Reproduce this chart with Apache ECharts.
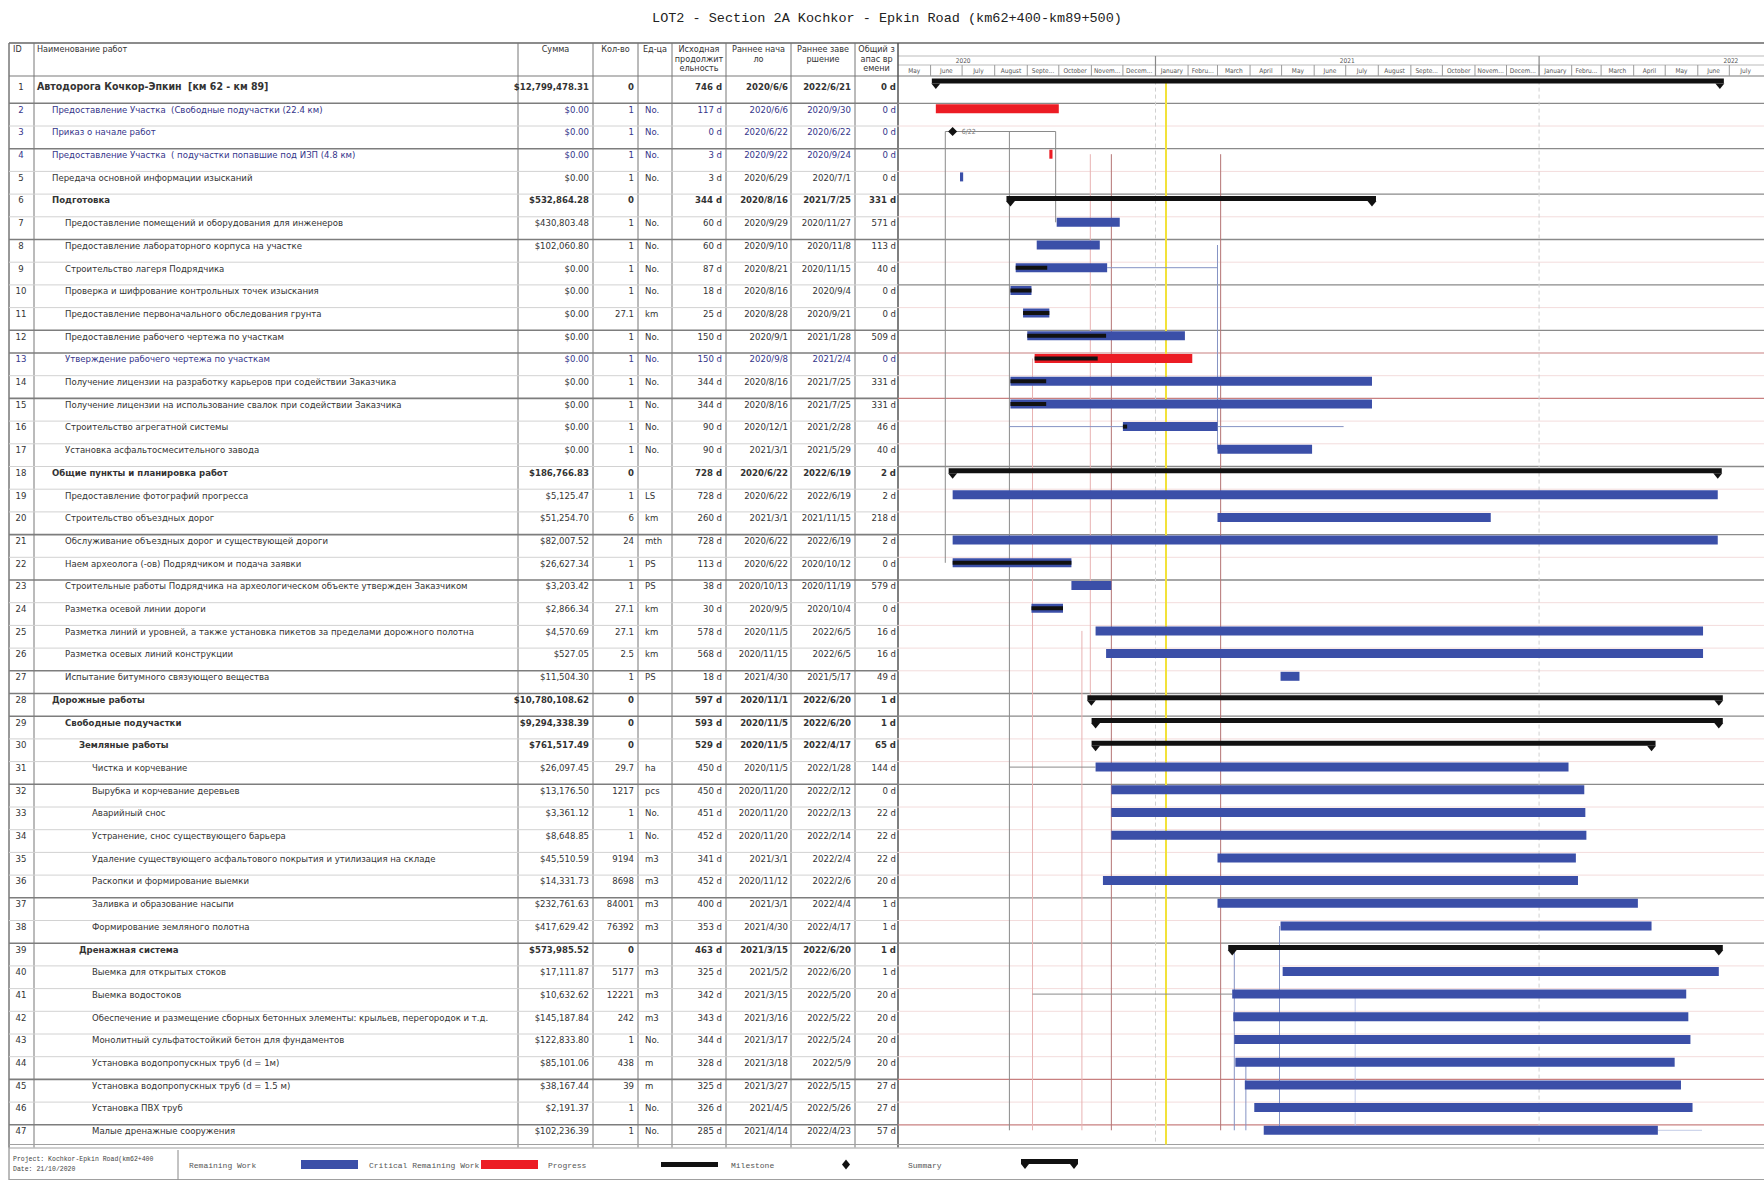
<!DOCTYPE html>
<html><head><meta charset="utf-8">
<script src="https://cdn.jsdelivr.net/npm/echarts@6/dist/echarts.min.js"></script>
<style>html,body{margin:0;padding:0;background:#fff}#c{width:1764px;height:1184px}</style>
</head><body><div id="c"></div>
<script>
// ---------------- DATA ----------------
const title = 'LOT2 - Section 2A Kochkor - Epkin Road (km62+400-km89+500)';
const headers = ['ID','Наименование работ','Сумма','Кол-во','Ед-ца',['Исходная','продолжит','ельность'],['Раннее нача','ло'],['Раннее заве','ршение'],['Общий з','апас вр','емени']];
const ids = [1,2,3,4,5,6,7,8,9,10,11,12,13,14,15,16,17,18,19,20,21,22,23,24,25,26,27,28,29,30,31,32,33,34,35,36,37,38,39,40,41,42,43,44,45,46,47];
const names = [
'Автодорога Кочкор-Эпкин  [км 62 - км 89]',
'Предоставление Участка  (Свободные подучастки (22.4 км)',
'Приказ о начале работ',
'Предоставление Участка  ( подучастки попавшие под ИЗП (4.8 км)',
'Передача основной информации изысканий',
'Подготовка',
'Предоставление помещений и оборудования для инженеров',
'Предоставление лабораторного корпуса на участке',
'Строительство лагеря Подрядчика',
'Проверка и шифрование контрольных точек изыскания',
'Предоставление первоначального обследования грунта',
'Предоставление рабочего чертежа по участкам',
'Утверждение рабочего чертежа по участкам',
'Получение лицензии на разработку карьеров при содействии Заказчика',
'Получение лицензии на использование свалок при содействии Заказчика',
'Строительство агрегатной системы',
'Установка асфальтосмесительного завода',
'Общие пункты и планировка работ',
'Предоставление фотографий прогресса',
'Строительство объездных дорог',
'Обслуживание объездных дорог и существующей дороги',
'Наем археолога (-ов) Подрядчиком и подача заявки',
'Строительные работы Подрядчика на археологическом объекте утвержден Заказчиком',
'Разметка осевой линии дороги',
'Разметка линий и уровней, а также установка пикетов за пределами дорожного полотна',
'Разметка осевых линий конструкции',
'Испытание битумного связующего вещества',
'Дорожные работы',
'Свободные подучастки',
'Земляные работы',
'Чистка и корчевание',
'Вырубка и корчевание деревьев',
'Аварийный снос',
'Устранение, снос существующего барьера',
'Удаление существующего асфальтового покрытия и утилизация на складе',
'Раскопки и формирование выемки',
'Заливка и образование насыпи',
'Формирование земляного полотна',
'Дренажная система',
'Выемка для открытых стоков',
'Выемка водостоков',
'Обеспечение и размещение сборных бетонных элементы: крыльев, перегородок и т.д.',
'Монолитный сульфатостойкий бетон для фундаментов',
'Установка водопропускных труб (d = 1м)',
'Установка водопропускных труб (d = 1.5 м)',
'Установка ПВХ труб',
'Малые дренажные сооружения'];
const levels = [1,2,2,2,2,2,3,3,3,3,3,3,3,3,3,3,3,2,3,3,3,3,3,3,3,3,3,2,3,4,5,5,5,5,5,5,5,5,4,5,5,5,5,5,5,5,5];
const costs = ['$12,799,478.31','$0.00','$0.00','$0.00','$0.00','$532,864.28','$430,803.48','$102,060.80','$0.00','$0.00','$0.00','$0.00','$0.00','$0.00','$0.00','$0.00','$0.00','$186,766.83','$5,125.47','$51,254.70','$82,007.52','$26,627.34','$3,203.42','$2,866.34','$4,570.69','$527.05','$11,504.30','$10,780,108.62','$9,294,338.39','$761,517.49','$26,097.45','$13,176.50','$3,361.12','$8,648.85','$45,510.59','$14,331.73','$232,761.63','$417,629.42','$573,985.52','$17,111.87','$10,632.62','$145,187.84','$122,833.80','$85,101.06','$38,167.44','$2,191.37','$102,236.39'];
const qtys = ['0','1','1','1','1','0','1','1','1','1','27.1','1','1','1','1','1','1','0','1','6','24','1','1','27.1','27.1','2.5','1','0','0','0','29.7','1217','1','1','9194','8698','84001','76392','0','5177','12221','242','1','438','39','1','1'];
const units = ['','No.','No.','No.','No.','','No.','No.','No.','No.','km','No.','No.','No.','No.','No.','No.','','LS','km','mth','PS','PS','km','km','km','PS','','','','ha','pcs','No.','No.','m3','m3','m3','m3','','m3','m3','m3','No.','m','m','No.','No.'];
const durations = ['746 d','117 d','0 d','3 d','3 d','344 d','60 d','60 d','87 d','18 d','25 d','150 d','150 d','344 d','344 d','90 d','90 d','728 d','728 d','260 d','728 d','113 d','38 d','30 d','578 d','568 d','18 d','597 d','593 d','529 d','450 d','450 d','451 d','452 d','341 d','452 d','400 d','353 d','463 d','325 d','342 d','343 d','344 d','328 d','325 d','326 d','285 d'];
const starts = ['2020/6/6','2020/6/6','2020/6/22','2020/9/22','2020/6/29','2020/8/16','2020/9/29','2020/9/10','2020/8/21','2020/8/16','2020/8/28','2020/9/1','2020/9/8','2020/8/16','2020/8/16','2020/12/1','2021/3/1','2020/6/22','2020/6/22','2021/3/1','2020/6/22','2020/6/22','2020/10/13','2020/9/5','2020/11/5','2020/11/15','2021/4/30','2020/11/1','2020/11/5','2020/11/5','2020/11/5','2020/11/20','2020/11/20','2020/11/20','2021/3/1','2020/11/12','2021/3/1','2021/4/30','2021/3/15','2021/5/2','2021/3/15','2021/3/16','2021/3/17','2021/3/18','2021/3/27','2021/4/5','2021/4/14'];
const finishes = ['2022/6/21','2020/9/30','2020/6/22','2020/9/24','2020/7/1','2021/7/25','2020/11/27','2020/11/8','2020/11/15','2020/9/4','2020/9/21','2021/1/28','2021/2/4','2021/7/25','2021/7/25','2021/2/28','2021/5/29','2022/6/19','2022/6/19','2021/11/15','2022/6/19','2020/10/12','2020/11/19','2020/10/4','2022/6/5','2022/6/5','2021/5/17','2022/6/20','2022/6/20','2022/4/17','2022/1/28','2022/2/12','2022/2/13','2022/2/14','2022/2/4','2022/2/6','2022/4/4','2022/4/17','2022/6/20','2022/6/20','2022/5/20','2022/5/22','2022/5/24','2022/5/9','2022/5/15','2022/5/26','2022/4/23'];
const floats = ['0 d','0 d','0 d','0 d','0 d','331 d','571 d','113 d','40 d','0 d','0 d','509 d','0 d','331 d','331 d','46 d','40 d','2 d','2 d','218 d','2 d','0 d','579 d','0 d','16 d','16 d','49 d','1 d','1 d','65 d','144 d','0 d','22 d','22 d','22 d','20 d','1 d','1 d','1 d','1 d','20 d','20 d','20 d','20 d','27 d','27 d','57 d'];
// S = summary, C = critical task, M = milestone, T = task
const kinds = ['S','C','M','C','T','S','T','T','T','T','T','T','C','T','T','T','T','S','T','T','T','T','T','T','T','T','T','S','S','S','T','T','T','T','T','T','T','T','S','T','T','T','T','T','T','T','T'];
// progress (completed through) dates
const progress = [null,null,null,null,null,null,null,null,'2020/9/19','2020/9/4','2020/9/21','2020/11/14','2020/11/6','2020/9/18','2020/9/18','2020/12/4',null,null,null,null,null,'2020/10/12',null,'2020/10/4',null,null,null,null,null,null,null,null,null,null,null,null,null,null,null,null,null,null,null,null,null,null,null];
const statusDate = '2021/1/11';
const years = ['2020','2021','2022'];
const months = ['May','June','July','August','September','October','November','December','January','February','March','April','May','June','July','August','September','October','November','December','January','February','March','April','May','June','July'];
// dependency link lines: [date, fromRow, toRow, kind]
const vLinks = [['2020/6/15',3,22,'gray'],['2020/8/15',3,47,'gray'],['2020/9/6',13,47,'pink'],['2020/9/28',3,7,'gray'],['2020/10/31',4,28,'pink'],['2020/10/23',25,47,'pink'],['2020/11/20',4,47,'brown'],['2021/3/1',8,17,'blue'],['2021/3/4',4,47,'brown'],['2021/3/17',39,47,'blue'],['2021/3/28',44,47,'blue'],['2021/4/29',38,47,'blue'],['2021/7/10',41,47,'lblue']];
// [row, fromDate, toDate, kind]
const hLinks = [[3,'2020/6/15','2020/9/28','gray'],[9,'2020/11/16','2021/3/1','blue'],[16,'2020/8/15','2021/6/29','blue'],[31,'2020/8/15','2020/11/5','gray'],[41,'2020/9/6','2021/3/15','gray'],[47,'2022/4/24','2022/6/5','lblue']];
const legendItems = ['Remaining Work','Critical Remaining Work','Progress','Milestone','Summary'];

// ---------------- STYLE / LAYOUT ----------------
const DAY = 86400000;
const toTs = s => { const p = s.split('/').map(Number); return new Date(p[0], p[1]-1, p[2]).getTime(); };
const AXIS_MIN = new Date(2020,4,1).getTime();
const AXIS_MAX = new Date(2022,7,3).getTime();
const GL = 898, GT = 80.6, GH = 47*22.7;
const NARROW = '"Liberation Sans Narrow","Arial Narrow","DejaVu Sans Condensed","Liberation Sans",sans-serif';
const MONO = '"Liberation Mono","DejaVu Sans Mono",monospace';
const BLUE = '#3b4fa8', RED = '#ec1c24', BLACK = '#111';
const colX = [9,34,518,593,638,672,726,791,855,898];
const indentX = {1:37,2:52,3:65,4:79,5:92};
const blueTextRows = [2,3,4,13];
const darkTableRows = [2,4,8,12,13,15,21,23,27,28,29,32,37,39,45,47];
const darkGanttRows = [2,4,6,8,10,12,18,21,23,28,29,32,37,39];
const redGanttRows = [13,15,45,47];
const linkColors = {gray:'#8a8a8a', pink:'#e8b2b2', brown:'#b47474', blue:'#8593c4', lblue:'#c4cce6'};

const chart = echarts.init(document.getElementById('c'), null, {renderer:'svg', width:1764, height:1184});

function txt(text, x, y, o) {
  o = o || {};
  return {type:'text', silent:true, style:{text:text, x:x, y:y, fill:o.fill||'#333',
    fontSize:o.size||9.5, fontFamily:o.family||NARROW, fontWeight:o.weight||'normal',
    textAlign:o.align||'left', textVerticalAlign:'middle'}};
}
function ln(x1,y1,x2,y2,stroke,w,dash) {
  return {type:'line', silent:true, shape:{x1:x1,y1:y1,x2:x2,y2:y2}, style:{stroke:stroke, lineWidth:w||1, lineDash:dash||null}};
}

// static graphics: title, frame, headers, legend
const g = [];
g.push(txt(title, 887, 18, {size:13.5, family:MONO, align:'center', fill:'#222'}));
g.push(ln(9,43,1764,43,'#8c8c8c',2));
g.push(ln(9,76,1764,76,'#7a7a7a',1.2));
g.push(ln(GL,56,1764,56,'#bbbbbb',1));
g.push(ln(GL,65,1764,65,'#bbbbbb',1));
colX.forEach((x,i)=>{ g.push(ln(x,43,x,GT+GH,i===9?'#555':'#777',i===9?1.5:1)); });
g.push(ln(9,43,9,1180,'#777',1));
g.push(ln(9,GT+GH-3,1764,GT+GH-3,'#a0a0a0',1));
g.push(ln(9,GT+GH+0.5,1764,GT+GH+0.5,'#a0a0a0',1));
g.push(ln(9,1179.5,1764,1179.5,'#a0a0a0',1));
g.push(ln(178,1150,178,1179.5,'#888',1));
// headers
g.push(txt(headers[0], 13, 49, {size:9}));
g.push(txt(headers[1], 37, 49, {size:9}));
for (let c = 2; c < headers.length; c++) {
  const cx = (colX[c] + colX[c+1]) / 2;
  const lines = Array.isArray(headers[c]) ? headers[c] : [headers[c]];
  lines.forEach((t,k)=> g.push(txt(t, cx, 49 + k*9.5, {size:9, align:'center'})));
}
// legend
g.push(txt('Project: Kochkor-Epkin Road(km62+400', 13, 1159, {size:6.5, family:MONO, fill:'#444'}));
g.push(txt('Date: 21/10/2020', 13, 1169, {size:6.5, family:MONO, fill:'#444'}));
const legX = [189, 369, 548, 731, 908];
legendItems.forEach((t,i)=> g.push(txt(t, legX[i], 1165, {size:8, family:MONO, fill:'#555'})));
g.push({type:'rect', silent:true, shape:{x:301,y:1160,width:57,height:9}, style:{fill:BLUE}});
g.push({type:'rect', silent:true, shape:{x:481,y:1160,width:57,height:9}, style:{fill:RED}});
g.push({type:'rect', silent:true, shape:{x:661,y:1162,width:57,height:5}, style:{fill:BLACK}});
g.push({type:'polygon', silent:true, shape:{points:[[846,1159.5],[850,1164.5],[846,1169.5],[842,1164.5]]}, style:{fill:BLACK}});
g.push({type:'rect', silent:true, shape:{x:1021,y:1159,width:57,height:5}, style:{fill:BLACK}});
g.push({type:'polygon', silent:true, shape:{points:[[1021,1164],[1029,1164],[1025,1169]]}, style:{fill:BLACK}});
g.push({type:'polygon', silent:true, shape:{points:[[1070,1164],[1078,1164],[1074,1169]]}, style:{fill:BLACK}});

function bandTop(api, i) {
  const c = api.coord([AXIS_MIN, i]);
  return c[1] - api.size([0,1])[1] / 2;
}

const option = {
  animation: false,
  backgroundColor: '#fff',
  grid: {left: GL, top: GT, width: 1764-GL, height: GH, containLabel: false},
  xAxis: {type:'time', min: AXIS_MIN, max: AXIS_MAX, show: false},
  yAxis: {type:'category', data: ids.map(String), inverse: true, show: false},
  graphic: {elements: g},
  series: [
    { // table rows + row separators
      type:'custom', name:'table', clip:false, silent:true, z:1,
      encode:{x:1, y:0},
      data: ids.map((_, i) => [i, AXIS_MIN]),
      renderItem: (params, api) => {
        const i = api.value(0);
        const top = bandTop(api, i);
        const ty = top + 5.8;
        const row = ids[i];
        const bold = kinds[i] === 'S' ? 'bold' : 'normal';
        const fill = blueTextRows.includes(row) ? '#34348a' : '#333';
        const o = {fill:fill, weight:bold, size:9.5};
        const ch = [];
        if (row > 1) {
          const dark = darkTableRows.includes(row);
          ch.push(ln(9, top, GL, top, dark ? '#7d7d7d' : '#d2d2d2', dark ? 1.6 : 1));
          let gc = '#f3dcdc', gw = 1;
          if (darkGanttRows.includes(row)) { gc = '#8a8a8a'; gw = 1.3; }
          if (redGanttRows.includes(row)) { gc = '#c88080'; gw = 1.2; }
          ch.push(ln(GL, top, 1764, top, gc, gw));
        }
        ch.push(txt(String(row), 21, ty, {fill:fill, size:9.5, align:'center'}));
        ch.push(txt(names[i], indentX[levels[i]], ty, Object.assign({}, o, {size: row === 1 ? 10.5 : 9.5})));
        ch.push(txt(costs[i], 589, ty, Object.assign({}, o, {align:'right'})));
        ch.push(txt(qtys[i], 634, ty, Object.assign({}, o, {align:'right'})));
        ch.push(txt(units[i], 645, ty, o));
        ch.push(txt(durations[i], 722, ty, Object.assign({}, o, {align:'right'})));
        ch.push(txt(starts[i], 788, ty, Object.assign({}, o, {align:'right'})));
        ch.push(txt(finishes[i], 851, ty, Object.assign({}, o, {align:'right'})));
        ch.push(txt(floats[i], 896, ty, Object.assign({}, o, {align:'right'})));
        return {type:'group', children: ch};
      }
    },
    { // timeline header months
      type:'custom', name:'months', clip:false, silent:true, z:1,
      encode:{x:0, y:1},
      data: months.map((m, i) => [new Date(2020, 4+i, 1).getTime(), 0]),
      renderItem: (params, api) => {
        const i = params.dataIndex;
        const x0 = api.coord([api.value(0), 0])[0];
        const x1 = Math.min(1764, api.coord([new Date(2020, 5+i, 1).getTime(), 0])[0]);
        const ch = [];
        if (i > 0) ch.push(ln(x0, 65, x0, 76, '#9a9a9a', 1));
        ch.push({type:'text', silent:true, style:{text:months[i], x:(x0+x1)/2, y:70.5, fill:'#555', fontSize:6.5, fontFamily:NARROW, textAlign:'center', textVerticalAlign:'middle', width:x1-x0-3, overflow:'truncate'}});
        return {type:'group', children: ch};
      }
    },
    { // timeline header years
      type:'custom', name:'years', clip:false, silent:true, z:1,
      encode:{x:0, y:1},
      data: years.map(y => [new Date(+y, 0, 1).getTime(), 0]),
      renderItem: (params, api) => {
        const y = +years[params.dataIndex];
        const x0 = api.coord([api.value(0), 0])[0];
        const x1 = api.coord([new Date(y+1, 0, 1).getTime(), 0])[0];
        const ch = [];
        if (x0 > GL) ch.push(ln(x0, 56, x0, 76, '#888', 1.2));
        ch.push(txt(years[params.dataIndex], (x0+x1)/2, 60.5, {size:6.5, fill:'#555', align:'center'}));
        return {type:'group', children: ch};
      }
    },
    { // year dashed lines + status line
      type:'custom', name:'markers', clip:false, silent:true, z:2,
      encode:{x:0, y:1},
      data: [[new Date(2021,0,1).getTime(),0,0],[new Date(2022,0,1).getTime(),0,0],[toTs(statusDate),0,1]],
      renderItem: (params, api) => {
        const x = api.coord([api.value(0), 0])[0];
        const cs = params.coordSys;
        if (api.value(2) === 1) return ln(x, cs.y + 1, x, cs.y + cs.height - 3, '#f2e23a', 2);
        return ln(x, cs.y, x, cs.y + cs.height - 3, '#d0d0d0', 1, [4,3]);
      }
    },
    { // vertical link lines
      type:'custom', name:'vlinks', clip:false, silent:true, z:2,
      encode:{x:0, y:1},
      data: vLinks.map(l => [toTs(l[0]), l[1]-1, l[2]-1]),
      renderItem: (params, api) => {
        const x = api.coord([api.value(0), api.value(1)])[0];
        const y1 = bandTop(api, api.value(1)) + 5.5;
        const y2 = bandTop(api, api.value(2)) + 5.5;
        return ln(x, y1, x, y2, linkColors[vLinks[params.dataIndex][3]], 1);
      }
    },
    { // horizontal link lines
      type:'custom', name:'hlinks', clip:false, silent:true, z:2,
      encode:{x:[1,2], y:0},
      data: hLinks.map(l => [l[0]-1, toTs(l[1]), toTs(l[2])]),
      renderItem: (params, api) => {
        const r = api.value(0);
        const x1 = api.coord([api.value(1), r])[0];
        const x2 = api.coord([api.value(2), r])[0];
        const y = bandTop(api, r) + 5.5;
        return ln(x1, y, x2, y, linkColors[hLinks[params.dataIndex][3]], 1);
      }
    },
    { // gantt bars
      type:'custom', name:'gantt', clip:false, silent:true, z:3,
      encode:{x:[1,2], y:0},
      data: ids.map((_, i) => [i, toTs(starts[i]), toTs(finishes[i]) + DAY, progress[i] ? toTs(progress[i]) + DAY : 0]),
      renderItem: (params, api) => {
        const i = api.value(0);
        const k = kinds[i];
        const top = bandTop(api, i);
        const sx = api.coord([api.value(1), i])[0];
        const ex = api.coord([api.value(2), i])[0];
        const ch = [];
        if (k === 'S') {
          const y = top + (i === 0 ? -2 : 1.8), h = 5;
          ch.push({type:'rect', shape:{x:sx-4, y:y, width:ex-sx+8, height:h}, style:{fill:BLACK}});
          ch.push({type:'polygon', shape:{points:[[sx-4.5,y+h],[sx+4.5,y+h],[sx,y+h+5.5]]}, style:{fill:BLACK}});
          ch.push({type:'polygon', shape:{points:[[ex-4.5,y+h],[ex+4.5,y+h],[ex,y+h+5.5]]}, style:{fill:BLACK}});
        } else if (k === 'M') {
          const cy = top + 5.5, r = 4.5;
          ch.push({type:'polygon', shape:{points:[[sx,cy-r],[sx+r,cy],[sx,cy+r],[sx-r,cy]]}, style:{fill:BLACK}});
          const p = starts[i].split('/');
          ch.push(txt(p[1] + '/' + p[2], sx + 9, cy, {size:7, fill:'#777'}));
        } else {
          const w = Math.max(2, ex - sx);
          ch.push({type:'rect', shape:{x:sx, y:top+1, width:w, height:9}, style:{fill: k === 'C' ? RED : BLUE}});
          const pv = api.value(3);
          if (pv > 0) {
            const px = api.coord([pv, i])[0];
            ch.push({type:'rect', shape:{x:sx, y:top+3.5, width:Math.max(1, px - sx), height:4}, style:{fill:BLACK}});
          }
        }
        return {type:'group', children: ch};
      }
    }
  ]
};
chart.setOption(option);
</script>
</body></html>
